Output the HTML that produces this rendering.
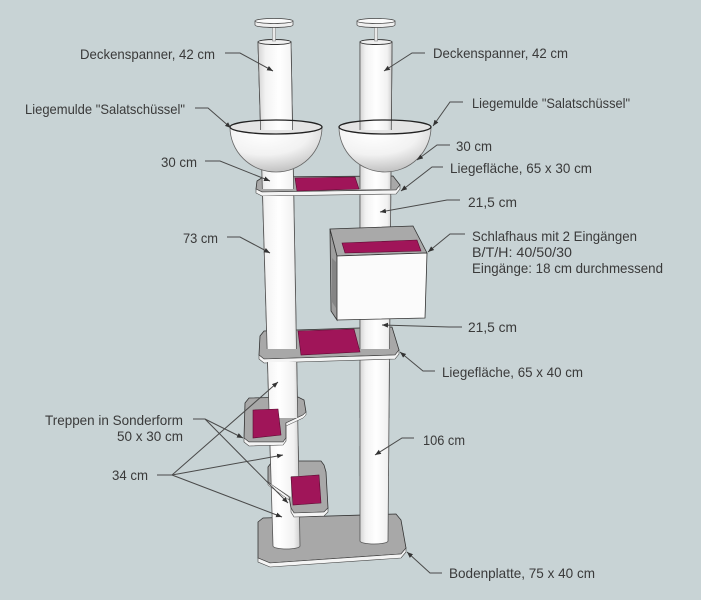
<!DOCTYPE html>
<html><head><meta charset="utf-8"><style>html,body{margin:0;padding:0;background:#c8d3d5}svg{display:block}</style></head><body>
<svg width="701" height="600" viewBox="0 0 701 600" xmlns="http://www.w3.org/2000/svg">
<defs>
<linearGradient id="pg" x1="0" y1="0" x2="1" y2="0">
<stop offset="0" stop-color="#d4d4d4"/><stop offset="0.18" stop-color="#f2f2f2"/><stop offset="0.5" stop-color="#ffffff"/><stop offset="0.85" stop-color="#f1f1f1"/><stop offset="1" stop-color="#cecece"/>
</linearGradient>
<radialGradient id="bw" cx="0.38" cy="0.15" r="0.85">
<stop offset="0" stop-color="#ffffff"/><stop offset="0.55" stop-color="#f2f2f2"/><stop offset="1" stop-color="#c2c2c2"/>
</radialGradient>
<path id="lp" d="M258,42 L291,42 L300,546 A13.5,3 0 0 1 273,546 Z"/>
<path id="rp" d="M360,42 L392,42 L388,541 A14,3 0 0 1 360,541 Z"/>
<clipPath id="c1">
<rect x="0" y="0" width="701" height="189"/>
<rect x="0" y="196" width="701" height="153"/>
<rect x="0" y="362" width="701" height="56"/>
<polygon points="0,446 701,446 701,476 291,476 291,497 268,482 0,482"/>
</clipPath>
<clipPath id="c2"><rect x="0" y="0" width="701" height="130"/></clipPath>
<marker id="ar" viewBox="0 0 10 10" refX="10" refY="5" markerWidth="6" markerHeight="6" markerUnits="userSpaceOnUse" orient="auto"><path d="M0,1 L10,5 L0,9 Z" fill="#333"/></marker>
</defs>

<rect x="0" y="0" width="701" height="600" fill="#c8d3d5"/>

<!-- base plate -->
<polygon points="258,522 263,518 396,514 401,520 406,548 401,554 270,563 258,558" fill="#a8a8a8" stroke="#333" stroke-width="0.8"/>
<polygon points="258,558 270,563 401,554 406,548 406,552 401,558 270,567 258,562" fill="#f4f4f4" stroke="#444" stroke-width="0.6"/>

<!-- poles full -->
<use href="#lp" fill="url(#pg)" stroke="#555" stroke-width="0.8"/>
<use href="#rp" fill="url(#pg)" stroke="#555" stroke-width="0.8"/>

<!-- lower step -->
<polygon points="268,467 271,463 296,461 321,461 324,465 326,472 328,508 324,512 294,513 291,508 289,497 268,482" fill="#a8a8a8" stroke="#333" stroke-width="0.8"/>
<polygon points="291,508 294,513 324,512 328,508 328,512 324,516 294,517 291,512" fill="#f4f4f4" stroke="#444" stroke-width="0.6"/>

<!-- upper step -->
<polygon points="245,403 249,398 298,397 304,400 306,412 303,415 286,423 286,438 283,442 249,442 244,438" fill="#a8a8a8" stroke="#333" stroke-width="0.8"/>
<polygon points="244,438 249,442 283,442 286,438 286,441 283,445 249,446 244,442" fill="#f4f4f4" stroke="#444" stroke-width="0.6"/>
<polygon points="306,412 303,415 286,423 286,426 303,418 306,415" fill="#f4f4f4" stroke="#444" stroke-width="0.5"/>

<!-- middle shelf -->
<polygon points="260,336 264,331 392,327 399,350 395,355 264,359 259,355" fill="#a8a8a8" stroke="#333" stroke-width="0.8"/>
<polygon points="259,355 264,359 395,355 399,350 399,354 395,359 264,363 259,359" fill="#f4f4f4" stroke="#444" stroke-width="0.6"/>

<!-- top shelf -->
<polygon points="257,181 263,177 393,176 400,185 396,190 262,192 256,189" fill="#a8a8a8" stroke="#333" stroke-width="0.8"/>
<polygon points="256,189 262,192 396,190 400,185 400,189 396,194 262,196 256,193" fill="#f4f4f4" stroke="#444" stroke-width="0.6"/>

<!-- pole segments above surfaces -->
<g clip-path="url(#c1)">
<use href="#lp" fill="url(#pg)" stroke="#555" stroke-width="0.8"/>
<use href="#rp" fill="url(#pg)" stroke="#555" stroke-width="0.8"/>
</g>

<!-- mats and step edge -->
<polygon points="295,178 355,177 359,189 297,191" fill="#a01559" stroke="#5a0a30" stroke-width="0.6"/>
<polygon points="298,331 354,329 360,352 301,355" fill="#a01559" stroke="#5a0a30" stroke-width="0.6"/>
<polygon points="253,410 278,409 281,435 253,438" fill="#a01559" stroke="#5a0a30" stroke-width="0.6"/>
<polygon points="291,477 319,475 321,503 293,505" fill="#a01559" stroke="#5a0a30" stroke-width="0.6"/>
<polygon points="268,482 289,497 289,500 268,485" fill="#f4f4f4" stroke="#444" stroke-width="0.5"/>

<!-- house -->
<polygon points="330,229 337,256 337,320 331,311" fill="#9e9e9e" stroke="#333" stroke-width="0.8"/>
<polygon points="332,258 336,262 336,308 332,302" fill="#858585"/>
<polygon points="330,229 413,226 427,253 337,256" fill="#a9a9a9" stroke="#333" stroke-width="0.8"/>
<polygon points="337,256 427,253 425,318 337,320" fill="#fbfbfb" stroke="#333" stroke-width="0.8"/>
<polygon points="342,243 417,240 421,251 345,253" fill="#a01559" stroke="#5a0a30" stroke-width="0.6"/>

<!-- bowls -->
<ellipse cx="276" cy="127" rx="46" ry="7" fill="#e4e4e4"/>
<ellipse cx="385" cy="127" rx="46" ry="7" fill="#e4e4e4"/>
<g clip-path="url(#c2)">
<use href="#lp" fill="url(#pg)" stroke="#555" stroke-width="0.8"/>
<use href="#rp" fill="url(#pg)" stroke="#555" stroke-width="0.8"/>
</g>
<path d="M230,127 A46,45 0 0 0 322,127 A46,7 0 0 1 230,127 Z" fill="url(#bw)" stroke="#666" stroke-width="0.8"/>
<path d="M339,127 A46,45 0 0 0 431,127 A46,7 0 0 1 339,127 Z" fill="url(#bw)" stroke="#666" stroke-width="0.8"/>
<ellipse cx="276" cy="127" rx="46" ry="7" fill="none" stroke="#222" stroke-width="1.3"/>
<ellipse cx="385" cy="127" rx="46" ry="7" fill="none" stroke="#222" stroke-width="1.3"/>

<!-- pole tops, rods, caps -->
<ellipse cx="274.5" cy="42" rx="16.5" ry="2.5" fill="#f0f0f0" stroke="#333" stroke-width="0.9"/>
<ellipse cx="376" cy="42" rx="16" ry="2.5" fill="#f0f0f0" stroke="#333" stroke-width="0.9"/>
<rect x="272.5" y="26" width="3" height="15" fill="#e8e8e8" stroke="#777" stroke-width="0.5"/>
<rect x="374.5" y="26" width="3" height="15" fill="#e8e8e8" stroke="#777" stroke-width="0.5"/>
<path d="M255,21 L255,25 A19,2.5 0 0 0 293,25 L293,21 Z" fill="#efefef" stroke="#444" stroke-width="0.7"/>
<ellipse cx="274" cy="21" rx="19" ry="2.5" fill="#fafafa" stroke="#444" stroke-width="0.7"/>
<path d="M357,21 L357,25 A19,2.5 0 0 0 395,25 L395,21 Z" fill="#efefef" stroke="#444" stroke-width="0.7"/>
<ellipse cx="376" cy="21" rx="19" ry="2.5" fill="#fafafa" stroke="#444" stroke-width="0.7"/>

<!-- leaders -->
<g fill="none" stroke="#4a4a4a" stroke-width="1" marker-end="url(#ar)">
<polyline points="225,53 240,53 273,71"/>
<polyline points="195,108 208,108 231,128"/>
<polyline points="205,161 220,161 270,181"/>
<polyline points="425,53 412,53 384,71"/>
<polyline points="463,102 450,102 433,126"/>
<polyline points="450,145 437,145 417,160"/>
<polyline points="443,167 432,167 401,191"/>
<polyline points="460,200 447,200 380,212"/>
<polyline points="465,234 450,234 428,252"/>
<polyline points="462,327 449,327 382,325"/>
<polyline points="435,371 423,371 400,352"/>
<polyline points="227,237 240,237 270,253"/>
<polyline points="193,419 205,419 243,438"/>
<polyline points="205,419 288,503"/>
<polyline points="157,475 172,475 278,382"/>
<polyline points="172,475 283,455"/>
<polyline points="172,475 282,517"/>
<polyline points="414,438 402,438 375,455"/>
<polyline points="442,573 430,573 407,552"/>
</g>

<!-- labels -->
<g font-family="Liberation Sans, sans-serif" font-size="14" fill="#3a3a3a" lengthAdjust="spacingAndGlyphs">
<text x="80" y="59" textLength="135" lengthAdjust="spacingAndGlyphs">Deckenspanner, 42 cm</text>
<text x="25" y="114" textLength="160" lengthAdjust="spacingAndGlyphs">Liegemulde "Salatschüssel"</text>
<text x="161" y="167" textLength="36" lengthAdjust="spacingAndGlyphs">30 cm</text>
<text x="433" y="58" textLength="135" lengthAdjust="spacingAndGlyphs">Deckenspanner, 42 cm</text>
<text x="472" y="108" textLength="158" lengthAdjust="spacingAndGlyphs">Liegemulde "Salatschüssel"</text>
<text x="456" y="151" textLength="36" lengthAdjust="spacingAndGlyphs">30 cm</text>
<text x="450" y="173" textLength="142" lengthAdjust="spacingAndGlyphs">Liegefläche, 65 x 30 cm</text>
<text x="468" y="207" textLength="49" lengthAdjust="spacingAndGlyphs">21,5 cm</text>
<text x="472" y="241" textLength="165" lengthAdjust="spacingAndGlyphs">Schlafhaus mit 2 Eingängen</text>
<text x="472" y="257" textLength="100" lengthAdjust="spacingAndGlyphs">B/T/H: 40/50/30</text>
<text x="472" y="273" textLength="191" lengthAdjust="spacingAndGlyphs">Eingänge: 18 cm durchmessend</text>
<text x="468" y="332" textLength="49" lengthAdjust="spacingAndGlyphs">21,5 cm</text>
<text x="442" y="377" textLength="141" lengthAdjust="spacingAndGlyphs">Liegefläche, 65 x 40 cm</text>
<text x="183" y="243" textLength="35" lengthAdjust="spacingAndGlyphs">73 cm</text>
<text x="45" y="425" textLength="138" lengthAdjust="spacingAndGlyphs">Treppen in Sonderform</text>
<text x="117" y="441" textLength="66" lengthAdjust="spacingAndGlyphs">50 x 30 cm</text>
<text x="112" y="480" textLength="36" lengthAdjust="spacingAndGlyphs">34 cm</text>
<text x="423" y="445" textLength="42" lengthAdjust="spacingAndGlyphs">106 cm</text>
<text x="449" y="578" textLength="146" lengthAdjust="spacingAndGlyphs">Bodenplatte, 75 x 40 cm</text>
</g>
</svg>
</body></html>
